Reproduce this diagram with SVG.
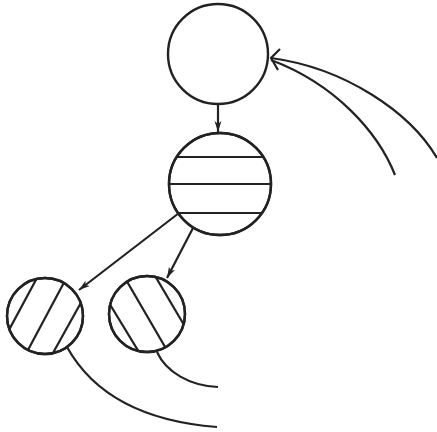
<svg xmlns="http://www.w3.org/2000/svg" width="437" height="432" viewBox="0 0 437 432">
<style>
.n{fill:#fff;stroke:#222;stroke-width:2.4}
.h{stroke:#222;stroke-width:2.2;fill:none}
.e{stroke:#222;stroke-width:2.2;fill:none}
</style>
<defs>
<marker id="a" markerWidth="12" markerHeight="10" refX="11" refY="5" orient="auto" markerUnits="userSpaceOnUse">
<path d="M0,1.5 L11,5 L0,8.5 L3,5 Z" fill="#222"/>
</marker>
<clipPath id="c2"><circle cx="220" cy="184" r="51"/></clipPath>
<clipPath id="c3"><circle cx="45" cy="316" r="38"/></clipPath>
<clipPath id="c4"><circle cx="147" cy="314" r="38"/></clipPath>
</defs>
<rect width="437" height="432" fill="#fff"/>
<g id="connectors">
<path class="e" d="M218,104 L218,132" marker-end="url(#a)"/>
<path class="e" d="M179,213 L79,290" marker-end="url(#a)"/>
<path class="e" d="M193,228 L167,278" marker-end="url(#a)"/>
<path class="e" d="M437,158 C410,112 345,68 271,58"/>
<path class="e" d="M395,175 C378,132 335,84 271,60"/>
<path class="e" d="M280,49 L271,58 L278,70"/>
<path class="e" d="M67,347 C92,392 140,421 217,427"/>
<path class="e" d="M157,352 C166,372 190,386 218,387"/>
</g>
<g id="node-top">
<circle class="n" cx="218" cy="54" r="50"/>
</g>
<g id="node-middle">
<circle class="n" cx="220" cy="184" r="51"/>
<g clip-path="url(#c2)">
<line class="h" x1="160" y1="157" x2="280" y2="157"/>
<line class="h" x1="160" y1="184" x2="280" y2="184"/>
<line class="h" x1="160" y1="213" x2="280" y2="213"/>
</g>
<circle cx="220" cy="184" r="51" fill="none" stroke="#222" stroke-width="2.4"/>
</g>
<g id="node-left">
<circle class="n" cx="45" cy="316" r="38"/>
<g clip-path="url(#c3)">
<line class="h" x1="2" y1="343" x2="45" y2="263"/>
<line class="h" x1="20" y1="365" x2="68" y2="275"/>
<line class="h" x1="48" y1="362" x2="88" y2="290"/>
</g>
<circle cx="45" cy="316" r="38" fill="none" stroke="#222" stroke-width="2.4"/>
</g>
<g id="node-right">
<circle class="n" cx="147" cy="314" r="38"/>
<g clip-path="url(#c4)">
<line class="h" x1="100" y1="288" x2="142" y2="357"/>
<line class="h" x1="118" y1="266" x2="168" y2="352"/>
<line class="h" x1="148" y1="264" x2="190" y2="335"/>
</g>
<circle cx="147" cy="314" r="38" fill="none" stroke="#222" stroke-width="2.4"/>
</g>
</svg>
